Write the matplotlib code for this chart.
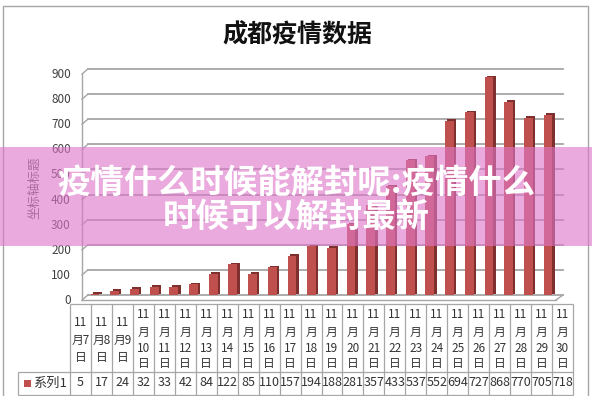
import matplotlib
matplotlib.use('Agg')
import matplotlib.pyplot as plt
from matplotlib.patches import Rectangle
import matplotlib.transforms as mtransforms

plt.rcParams['font.family'] = ['Noto Sans CJK SC', 'DejaVu Sans']

# ---------------- data ----------------
title = "成都疫情数据"
y_label = "坐标轴标题"
series_name = "系列1"
month = "11"
days = [str(d) for d in range(7, 31)]
values = [5, 17, 24, 32, 33, 42, 84, 122, 85, 110, 157, 194, 188, 281,
          357, 433, 537, 552, 694, 727, 868, 770, 705, 718]
y_ticks = [0, 100, 200, 300, 400, 500, 600, 700, 800, 900]
overlay_lines = ["疫情什么时候能解封呢:疫情什么", "时候可以解封最新"]

# ---------------- figure ----------------
W, H = 592, 396
fig = plt.figure(figsize=(W / 100, H / 100), dpi=100)
fig.patch.set_facecolor('white')


def fx(px):
    return px / W


def fy(py):
    return 1 - py / H


# outer chart frame
fig.add_artist(Rectangle((fx(3), -0.02), fx(585), fy(6) + 0.02,
                         transform=fig.transFigure, facecolor='none',
                         edgecolor='#A6A6A6', lw=1.0))

# title
fig.text(fx(297), fy(35), title, ha='center', va='center', fontsize=18,
         fontweight='bold', color='#111111')

# y axis title
fig.text(fx(35), fy(188), y_label, rotation=90, ha='center', va='center',
         fontsize=9, color='#595959')

# ---------------- plot area ----------------
ax = fig.add_axes([fx(82), fy(295), fx(563 - 82), (295 - 69) / H])
ax.set_xlim(-0.66, 23.76)
ax.set_ylim(0, 900)
for s in ax.spines.values():
    s.set_visible(False)
ax.set_xticks([])
ax.set_yticks(y_ticks)
ax.tick_params(axis='y', length=0, pad=8, labelsize=8.5, labelcolor='#404040')
off = mtransforms.ScaledTranslation(0, -4 / 100, fig.dpi_scale_trans)
for lab in ax.get_yticklabels():
    lab.set_transform(lab.get_transform() + off)

grid_c = '#A6A6A6'
depth = 20
for v in y_ticks:
    ax.plot([-0.36, 23.76], [v, v], color=grid_c, lw=1.3, clip_on=False, zorder=1)
    ax.plot([-0.66, -0.36], [v - depth, v], color=grid_c, lw=1.0, clip_on=False, zorder=1)
# left wall edge
ax.plot([-0.66, -0.66], [-depth, 900 - depth], color=grid_c, lw=1.0, clip_on=False, zorder=1)
# floor front edge
ax.plot([-0.66, 23.4], [-depth, -depth], color=grid_c, lw=1.0, clip_on=False, zorder=1)
ax.plot([23.4, 23.76], [-depth, 0], color=grid_c, lw=1.0, clip_on=False, zorder=1)

x = list(range(len(values)))
# 3D-ish bars: darker side/back then front face
ax.bar([i + 0.12 for i in x], [v + 4 for v in values], width=0.45,
       bottom=2, color='#7E302E', zorder=2, clip_on=False)
ax.bar(x, values, width=0.45, color='#C0504D', zorder=3, clip_on=False)

# ---------------- data table ----------------
tax = fig.add_axes([fx(70), fy(395), fx(503), (395 - 304) / H])
tax.set_xlim(0, 24)
tax.set_ylim(0, 91)
tax.axis('off')
tc = '#A6A6A6'
lab_left = (18 - 70) / (503 / 24)
tax.vlines(range(25), 0, 91, color=tc, lw=0.9, clip_on=False)
tax.hlines([91], 0, 24, color=tc, lw=0.9, clip_on=False)
tax.hlines([23, 0], lab_left, 24, color=tc, lw=0.9, clip_on=False)
tax.vlines([lab_left], 0, 23, color=tc, lw=0.9, clip_on=False)

txt_c = '#333333'
for i, d in enumerate(days):
    if len(d) == 1:
        lines = [month, "月" + d, "日"]
        ys = [395 - 323, 395 - 340, 395 - 357]
    else:
        lines = [month, "月", d, "日"]
        ys = [395 - 315, 395 - 332, 395 - 348, 395 - 364]
    for t, yy in zip(lines, ys):
        tax.text(i + 0.5, yy, t, ha='center', va='center', fontsize=8.5,
                 color=txt_c, clip_on=False)
    tax.text(i + 0.5, 12, str(values[i]), ha='center', va='center',
             fontsize=9, color=txt_c, clip_on=False)

# legend key in table
sq_w = 7 / (503 / 24)
tax.add_patch(Rectangle(((24 - 70) / (503 / 24), 8.5), sq_w, 7,
                        facecolor='#C0504D', edgecolor='none', clip_on=False))
tax.text((33 - 70) / (503 / 24), 12, series_name, ha='left', va='center',
         fontsize=9.5, color=txt_c, clip_on=False)

# ---------------- overlay banner ----------------
fig.add_artist(Rectangle((0, fy(246)), 1, (246 - 147) / H,
                         transform=fig.transFigure,
                         facecolor=(222 / 255, 118 / 255, 200 / 255, 0.62),
                         edgecolor='none', zorder=10))
fig.text(0.5, fy(183), overlay_lines[0], ha='center', va='center',
         fontsize=24, fontweight='bold', color='white', zorder=11)
fig.text(0.5, fy(217), overlay_lines[1], ha='center', va='center',
         fontsize=24, fontweight='bold', color='white', zorder=11)

fig.savefig('out.png', dpi=100, facecolor='white')
